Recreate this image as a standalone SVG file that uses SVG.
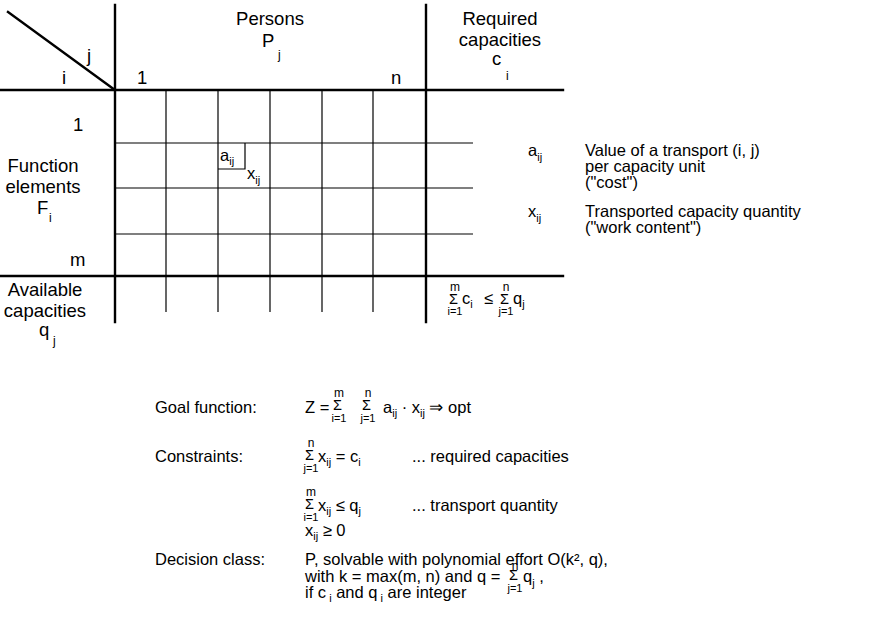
<svg xmlns="http://www.w3.org/2000/svg" width="883" height="622" viewBox="0 0 883 622">
<style>
.thick{stroke:#000;stroke-width:2.4;fill:none;stroke-linecap:square}
.thin{stroke:#000;stroke-width:1.2;fill:none}
text{font-family:"Liberation Sans",Arial,Helvetica,sans-serif;fill:#000;font-size:18.5px}
.b{font-size:16.5px}
.s{font-size:12px}
.l{font-size:11px}
.g{font-size:14.5px}
.m{text-anchor:middle}
</style>
<rect width="883" height="622" fill="#fff"/>
<g id="grid">
  <line class="thick" x1="8" y1="12" x2="115" y2="90"/>
  <line class="thick" x1="0" y1="90" x2="563" y2="90"/>
  <line class="thick" x1="0" y1="276" x2="563" y2="276"/>
  <line class="thick" x1="115" y1="5" x2="115" y2="322"/>
  <line class="thick" x1="426" y1="5" x2="426" y2="322"/>
  <g class="thin">
    <line x1="166" y1="90" x2="166" y2="312"/>
    <line x1="218" y1="90" x2="218" y2="312"/>
    <line x1="270" y1="90" x2="270" y2="312"/>
    <line x1="322" y1="90" x2="322" y2="312"/>
    <line x1="373" y1="90" x2="373" y2="312"/>
    <line x1="115" y1="143" x2="473" y2="143"/>
    <line x1="115" y1="188" x2="473" y2="188"/>
    <line x1="115" y1="234" x2="473" y2="234"/>
    <polyline points="218,169 245,169 245,143"/>
  </g>
</g>
<g id="header">
  <text class="m" x="270" y="25">Persons</text>
  <text x="262" y="47">P</text><text class="s" x="278" y="59">j</text>
  <text class="m" x="500" y="25">Required</text>
  <text class="m" x="500" y="46">capacities</text>
  <text x="492" y="65">c</text><text class="s" x="506" y="80">i</text>
  <text x="87" y="62">j</text>
  <text x="62" y="84">i</text>
  <text x="137" y="84">1</text>
  <text x="391" y="84">n</text>
</g>
<g id="rows">
  <text x="73" y="131">1</text>
  <text class="m" x="43" y="172">Function</text>
  <text class="m" x="43" y="193">elements</text>
  <text x="37" y="214">F</text><text class="s" x="49" y="222">i</text>
  <text x="70" y="266">m</text>
  <text class="m" x="45" y="296">Available</text>
  <text class="m" x="45" y="317">capacities</text>
  <text x="39" y="336">q</text><text class="s" x="53" y="345">j</text>
</g>
<g id="cell">
  <text class="b" x="220" y="161">a<tspan class="l" dy="4">ij</tspan></text>
  <text class="b" x="247" y="179">x<tspan class="l" dy="5">ij</tspan></text>
</g>
<g id="balance">
  <text class="g" x="449" y="304">Σ</text>
  <text class="s m" x="455" y="291">m</text>
  <text class="l m" x="455" y="315">i=1</text>
  <text class="b" x="462" y="304">c<tspan class="l" dy="4">i</tspan></text>
  <text class="b" x="484" y="304">≤</text>
  <text class="g" x="500" y="304">Σ</text>
  <text class="s m" x="506" y="291">n</text>
  <text class="l m" x="506" y="315">j=1</text>
  <text class="b" x="513" y="304">q<tspan class="l" dy="4">j</tspan></text>
</g>
<g id="legend">
  <text class="b" x="528" y="156">a<tspan class="l" dy="5">ij</tspan></text>
  <text class="b" x="585" y="156">Value of a transport (i, j)</text>
  <text class="b" x="585" y="172">per capacity unit</text>
  <text class="b" x="585" y="188">("cost")</text>
  <text class="b" x="528" y="217">x<tspan class="l" dy="5">ij</tspan></text>
  <text class="b" x="585" y="217">Transported capacity quantity</text>
  <text class="b" x="585" y="233">("work content")</text>
</g>
<g id="model">
  <text class="b" x="155" y="413">Goal function:</text>
  <text class="b" x="305" y="413">Z =</text>
  <text class="g" x="333" y="410">Σ</text>
  <text class="s m" x="339" y="397">m</text>
  <text class="l m" x="339" y="422">i=1</text>
  <text class="g" x="362" y="410">Σ</text>
  <text class="s m" x="368" y="397">n</text>
  <text class="l m" x="368" y="422">j=1</text>
  <text class="b" x="383" y="413">a<tspan class="l" dy="4">ij</tspan><tspan dy="-4"> · x</tspan><tspan class="l" dy="4">ij</tspan><tspan dy="-4"> ⇒ opt</tspan></text>

  <text class="b" x="155" y="462">Constraints:</text>
  <text class="g" x="305" y="460">Σ</text>
  <text class="s m" x="311" y="447">n</text>
  <text class="l m" x="311" y="472">j=1</text>
  <text class="b" x="318" y="462">x<tspan class="l" dy="4">ij</tspan><tspan dy="-4"> = c</tspan><tspan class="l" dy="4">i</tspan></text>
  <text class="b" x="412" y="462">... required capacities</text>

  <text class="g" x="305" y="509">Σ</text>
  <text class="s m" x="311" y="496">m</text>
  <text class="l m" x="311" y="521">i=1</text>
  <text class="b" x="318" y="511">x<tspan class="l" dy="4">ij</tspan><tspan dy="-4"> ≤ q</tspan><tspan class="l" dy="4">j</tspan></text>
  <text class="b" x="412" y="511">... transport quantity</text>

  <text class="b" x="305" y="536">x<tspan class="l" dy="4">ij</tspan><tspan dy="-4"> ≥ 0</tspan></text>

  <text class="b" x="155" y="565">Decision class:</text>
  <text class="b" x="305" y="565">P, solvable with polynomial effort O(k², q),</text>
  <text class="b" x="305" y="582">with k = max(m, n) and q =</text>
  <text class="g" x="509" y="580">Σ</text>
  <text class="s m" x="515" y="570">n</text>
  <text class="l m" x="515" y="592">j=1</text>
  <text class="b" x="523" y="582">q<tspan class="l" dy="5">j</tspan><tspan dy="-5"> ,</tspan></text>
  <text class="b" x="305" y="598">if c<tspan class="l" dy="4"> i</tspan><tspan dy="-4"> and q</tspan><tspan class="l" dy="4"> i</tspan><tspan dy="-4"> are integer</tspan></text>
</g>
</svg>
